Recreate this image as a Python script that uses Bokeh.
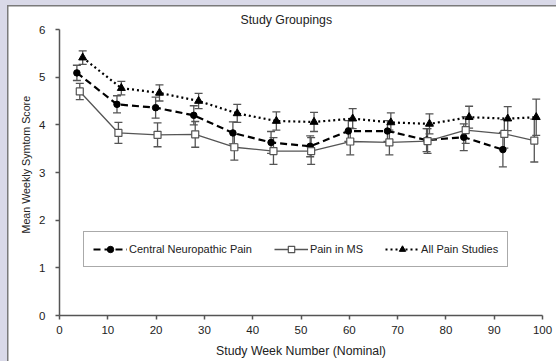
from bokeh.plotting import figure
from bokeh.models import (ColumnDataSource, Whisker, TeeHead, Title, FixedTicker,
                          Legend, LegendItem)
from bokeh.embed import file_html
from bokeh.resources import INLINE

# ---- data ----
central_x = [3.6, 11.9, 19.9, 27.8, 35.9, 43.8, 51.9, 59.8, 67.9, 76.0, 83.7, 91.8]
central_y = [5.09, 4.43, 4.36, 4.20, 3.83, 3.63, 3.55, 3.87, 3.87, 3.68, 3.74, 3.48]
central_err = [0.16, 0.18, 0.22, 0.20, 0.23, 0.23, 0.22, 0.22, 0.22, 0.24, 0.28, 0.36]

ms_x = [4.2, 12.2, 20.3, 28.1, 36.2, 44.3, 52.1, 60.2, 68.3, 76.2, 84.1, 92.1, 98.3]
ms_y = [4.70, 3.83, 3.79, 3.80, 3.53, 3.45, 3.45, 3.65, 3.63, 3.66, 3.89, 3.81, 3.67]
ms_err = [0.17, 0.22, 0.25, 0.27, 0.27, 0.28, 0.28, 0.28, 0.26, 0.26, 0.28, 0.30, 0.45]

all_x = [4.8, 12.8, 20.7, 28.8, 36.8, 44.9, 52.7, 60.7, 68.6, 76.6, 84.8, 92.8, 98.7]
all_y = [5.41, 4.77, 4.67, 4.50, 4.24, 4.08, 4.06, 4.13, 4.05, 4.02, 4.16, 4.13, 4.16]
all_err = [0.14, 0.14, 0.17, 0.16, 0.19, 0.19, 0.20, 0.21, 0.20, 0.21, 0.23, 0.25, 0.38]

x_ticks = [0, 10, 20, 30, 40, 50, 60, 70, 80, 90, 100]
y_ticks = [0, 1, 2, 3, 4, 5, 6]

title_text = "Study Groupings"
x_title = "Study Week Number (Nominal)"
y_title = "Mean Weekly Symtom Score"
names = ["Central Neuropathic Pain", "Pain in MS", "All Pain Studies"]

FONT = "Liberation Sans"
GREY = "#555555"
TEXT = "#222222"
FRAME_BG = "#d9d9e8"

p = figure(width=556, height=361, x_range=(0, 100), y_range=(0, 6),
           output_backend="svg", toolbar_location=None,
           min_border_left=59, min_border_right=14, min_border_top=29,
           min_border_bottom=46, background_fill_color="white",
           border_fill_color="white", border_fill_alpha=0,
           outline_line_color=None)
p.styles = {"background-color": "white",
            "box-shadow": "inset 7px 5px 0 0 " + FRAME_BG + ", inset 8.5px 6.5px 0 0 #7a7a7a"}
p.grid.visible = False

p.title.text = title_text
p.title.align = "left"
p.title.offset = 181
p.title.standoff = 5
p.title.text_font = FONT
p.title.text_font_size = "12.3px"
p.title.text_font_style = "normal"
p.title.text_color = TEXT

for ax in (p.xaxis[0], p.yaxis[0]):
    ax.axis_line_color = GREY
    ax.axis_line_width = 1.5
    ax.major_tick_line_color = GREY
    ax.major_tick_line_width = 1.5
    ax.major_tick_in = 0
    ax.major_tick_out = 4
    ax.minor_tick_line_color = None
    ax.major_label_text_font = FONT
    ax.major_label_text_font_size = "11.5px"
    ax.major_label_text_color = TEXT
    ax.axis_label_text_font = FONT
    ax.axis_label_text_font_size = "12.3px"
    ax.axis_label_text_font_style = "normal"
    ax.axis_label_text_color = TEXT

p.xaxis[0].ticker = FixedTicker(ticks=x_ticks)
p.yaxis[0].ticker = FixedTicker(ticks=y_ticks)
p.xaxis[0].axis_label = x_title
p.xaxis[0].major_label_standoff = 6
p.xaxis[0].axis_label_standoff = 7
p.yaxis[0].major_label_standoff = 10

p.add_layout(Title(text=y_title, align="left", offset=82, standoff=10,
                   text_font=FONT, text_font_size="10.7px",
                   text_font_style="normal", text_color=TEXT), "left")

def add_err(xs, ys, es):
    src = ColumnDataSource(dict(x=xs, lo=[a - b for a, b in zip(ys, es)],
                                hi=[a + b for a, b in zip(ys, es)]))
    w = Whisker(base="x", lower="lo", upper="hi", source=src,
                line_color=GREY, line_width=1.3,
                upper_head=TeeHead(size=8, line_color=GREY, line_width=1.3),
                lower_head=TeeHead(size=8, line_color=GREY, line_width=1.3))
    p.add_layout(w)

add_err(ms_x, ms_y, ms_err)
add_err(central_x, central_y, central_err)
add_err(all_x, all_y, all_err)

l1 = p.line(central_x, central_y, line_color="black", line_width=2.2, line_dash="7 4")
m1 = p.scatter(central_x, central_y, marker="circle", size=6.5, fill_color="black",
               line_color="black")
l2 = p.line(ms_x, ms_y, line_color=GREY, line_width=1.3)
m2 = p.scatter(ms_x, ms_y, marker="square", size=7, fill_color="white",
               line_color=GREY, line_width=1.2)
l3 = p.line(all_x, all_y, line_color="black", line_width=2.2, line_dash="2 3")
m3 = p.scatter(all_x, all_y, marker="triangle", size=8, fill_color="black",
               line_color="black")

legend = Legend(items=[LegendItem(label=names[0], renderers=[l1, m1]),
                       LegendItem(label=names[1], renderers=[l2, m2]),
                       LegendItem(label=names[2], renderers=[l3, m3])],
                orientation="horizontal", location=(24, 48),
                border_line_color=GREY, border_line_width=1.5,
                background_fill_color="white", background_fill_alpha=1,
                glyph_width=34, glyph_height=16, label_height=16,
                label_standoff=2, spacing=22, padding=9, margin=0,
                label_text_font=FONT, label_text_font_size="11px",
                label_text_color=TEXT)
p.add_layout(legend, "center")

open("out.html", "w").write(file_html(p, INLINE))
